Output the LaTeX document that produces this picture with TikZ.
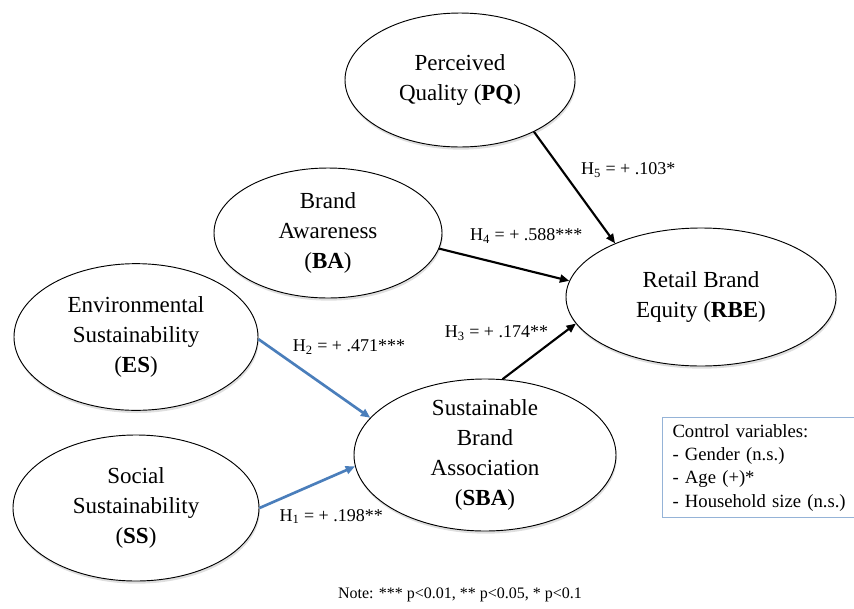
\documentclass[tikz,border=0pt]{standalone}
\usepackage{fontspec}
\setmainfont{Liberation Serif}
\usetikzlibrary{shapes.geometric,arrows.meta,shadows}
\definecolor{pathblue}{RGB}{74,126,187}
\definecolor{boxblue}{RGB}{149,179,215}
\begin{document}
\begin{tikzpicture}[x=0.75pt, y=-0.75pt, node distance=128.25pt,
    >={Triangle[length=7pt,width=6pt]},
    construct/.style={ellipse, draw, fill=white, line width=0.7pt, inner sep=-4pt, align=center,
      font=\fontsize{17.25}{22.5}\selectfont,
      drop shadow={shadow xshift=0.6pt, shadow yshift=-2pt, opacity=0.25}},
    effect/.style={->, line width=1.6pt},
    sustain/.style={->, line width=2pt, color=pathblue},
    coef/.style={text=black, font=\fontsize{13.5}{16}\selectfont}]
  \useasboundingbox (0,0) rectangle (854,608);
  \node[construct, minimum width=172.5pt, minimum height=100.5pt] (pq) at (460,80) {Perceived\\Quality (\textbf{PQ})};
  \node[construct, minimum width=171pt, minimum height=97.5pt] (ba) at (328,233) {Brand\\Awareness\\(\textbf{BA})};
  \node[construct, minimum width=202.5pt, minimum height=103.5pt] (rbe) at (701,297) {Retail Brand\\Equity (\textbf{RBE})};
  \node[construct, minimum width=183pt, minimum height=110pt] (es) at (136,337) {Environmental\\Sustainability\\(\textbf{ES})};
  \node[construct, minimum width=184.5pt, minimum height=109.5pt, below of=es] (ss) {Social\\Sustainability\\(\textbf{SS})};
  \node[construct, minimum width=196.5pt, minimum height=114pt] (sba) at (485,455) {Sustainable\\Brand\\Association\\(\textbf{SBA})};
  \path[effect] (pq.-35) edge node[coef, pos=0.34, xshift=50pt] {H\textsubscript{5} = + .103*} (rbe.148)
                (ba.-8) edge node[coef, pos=0.67, yshift=25.5pt] {H\textsubscript{4} = + .588***} (rbe.173)
                (sba.77) edge node[coef, pos=0.6, xshift=-37.5pt, yshift=9.5pt] {H\textsubscript{3} = + .174**} (rbe.192)
  ;
  \path[sustain] (es.-1) edge node[coef, pos=0.5, xshift=26pt, yshift=23.6pt] {H\textsubscript{2} = + .471***} (sba.162)
                 (ss.east) edge node[coef, pos=0.5, xshift=18pt, yshift=-22pt] {H\textsubscript{1} = + .198**} (sba.185)
  ;
  \node[draw=boxblue, line width=0.8pt, anchor=north west, minimum height=75pt, text width=141pt,
        inner xsep=7.5pt, align=left, font=\fontsize{14}{17.5}\selectfont] (ctrl) at (662,417)
        {Control variables:\\- Gender (n.s.)\\- Age (+)*\\- Household size (n.s.)};
  \node[font=\fontsize{12}{14}\selectfont] (note) at (460,595) {Note: *** p<0.01, ** p<0.05, * p<0.1};
\end{tikzpicture}
\end{document}
